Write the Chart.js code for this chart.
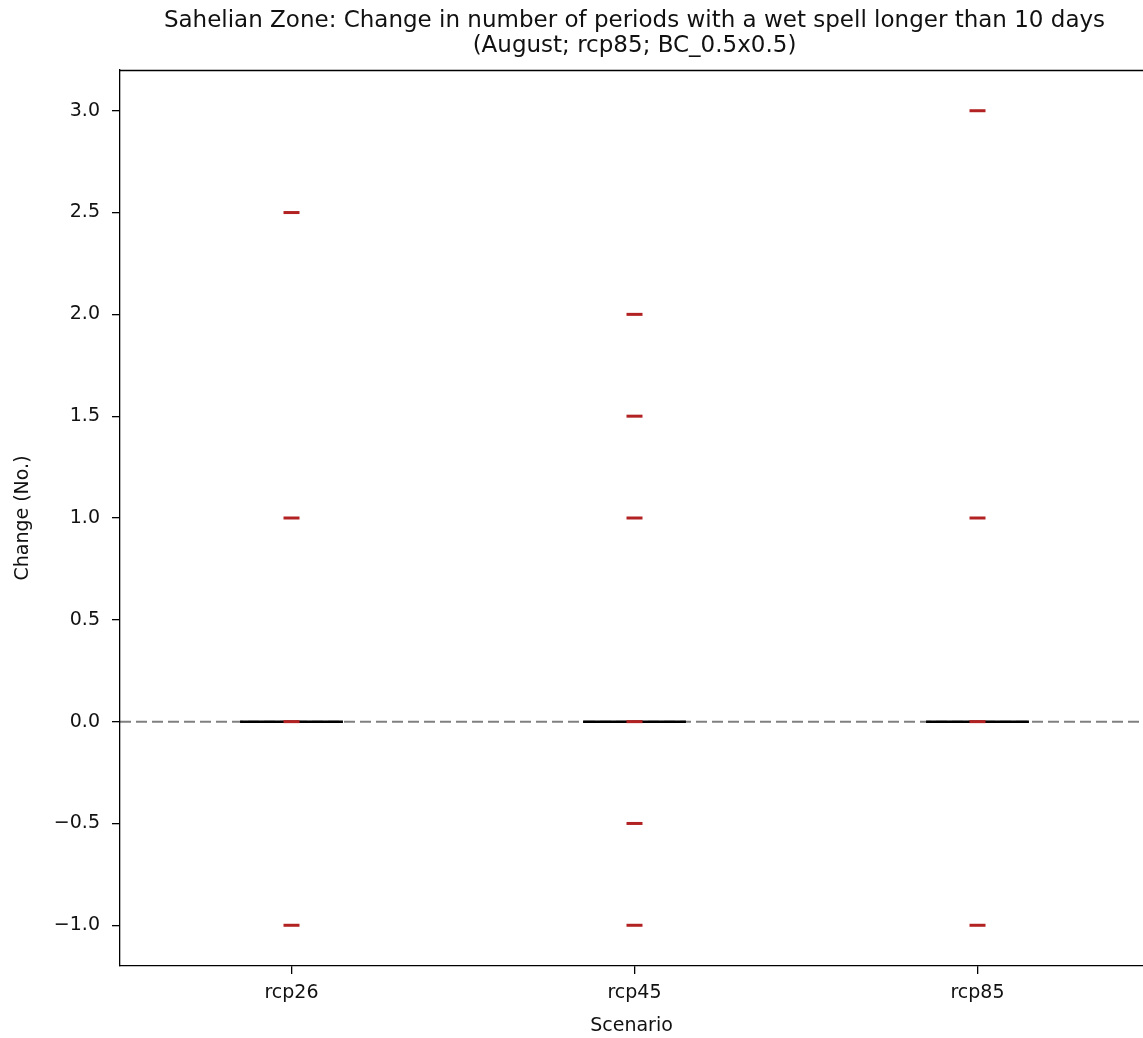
<!DOCTYPE html>
<html>
<head>
<meta charset="utf-8">
<script src="https://cdn.jsdelivr.net/npm/chart.js@4.4.0/dist/chart.umd.min.js"></script>
<style>
    html, body { margin: 0; padding: 0; background: #fff; overflow: hidden; }
    #wrap { width: 1143px; height: 1038px; }
</style>
</head>
<body>
<div id="wrap"><canvas id="chart"></canvas></div>
<script>
// --- Données ---
const scenarios = ['rcp26', 'rcp45', 'rcp85'];
const positions = [1, 2, 3];
// boxes collapsed: q1 = median = q3 = 0
const boxMedian = [0, 0, 0];
const outliersRcp26 = [2.5, 1.0, 0.0, -1.0];
const outliersRcp45 = [2.0, 1.5, 1.0, 0.0, -0.5, -1.0];
const outliersRcp85 = [3.0, 1.0, 0.0, -1.0];
const yTicks = [-1.0, -0.5, 0.0, 0.5, 1.0, 1.5, 2.0, 2.5, 3.0];

const titleLines = [
    'Sahelian Zone: Change in number of periods with a wet spell longer than 10 days',
    '(August; rcp85; BC_0.5x0.5)'
];

const FONT = "'DejaVu Sans', sans-serif";
const TEXT = '#111';
const boxHalf = 0.15;
const flierColor = '#b22222';

const outlierSets = [outliersRcp26, outliersRcp45, outliersRcp85];
const flierPoints = [];
outlierSets.forEach((vals, i) => {
    vals.forEach(v => flierPoints.push({ x: positions[i], y: v }));
});

const boxDatasets = positions.map((p, i) => ({
    type: 'line',
    data: [{ x: p - boxHalf, y: boxMedian[i] }, { x: p + boxHalf, y: boxMedian[i] }],
    borderColor: '#000',
    borderWidth: 2.5,
    pointRadius: 0,
    order: 1
}));

// titre + cadre du haut
const framePlugin = {
    id: 'frame',
    afterDraw(chart) {
        const { ctx, chartArea } = chart;
        ctx.save();
        ctx.strokeStyle = '#000';
        ctx.lineWidth = 1.3;
        ctx.beginPath();
        ctx.moveTo(chartArea.left, chartArea.top + 0.5);
        ctx.lineTo(chartArea.right + 20, chartArea.top + 0.5);
        ctx.stroke();
        ctx.fillStyle = TEXT;
        ctx.font = '23px ' + FONT;
        ctx.textAlign = 'center';
        ctx.textBaseline = 'middle';
        const cx = chartArea.left + (3 * 343) / 2;
        ctx.fillText(titleLines[0], cx, 21);
        ctx.fillText(titleLines[1], cx, 46);
        ctx.restore();
    }
};

new Chart(document.getElementById('chart'), {
    type: 'scatter',
    data: {
        datasets: [
            {
                type: 'scatter',
                data: flierPoints,
                pointStyle: 'line',
                pointRadius: 8,
                pointHoverRadius: 8,
                borderColor: flierColor,
                backgroundColor: flierColor,
                pointBorderWidth: 3,
                order: 0
            },
            ...boxDatasets,
            {
                type: 'line',
                data: [{ x: 0.5, y: 0 }, { x: 3.5, y: 0 }],
                borderColor: 'rgba(0,0,0,0.5)',
                borderWidth: 2,
                borderDash: [11, 5],
                pointRadius: 0,
                order: 2
            }
        ]
    },
    options: {
        responsive: true,
        maintainAspectRatio: false,
        animation: false,
        layout: { autoPadding: false, padding: { top: 70, right: 0, left: 0, bottom: 0 } },
        plugins: {
            legend: { display: false },
            tooltip: { enabled: false },
            title: { display: false }
        },
        scales: {
            x: {
                type: 'linear',
                min: 0.5,
                max: 0.5 + 1023 / 343,
                afterBuildTicks: scale => {
                    scale.ticks = positions.map(v => ({ value: v }));
                },
                afterFit: scale => {
                    scale.height = 72;
                    scale.paddingLeft = 0;
                    scale.paddingRight = 0;
                },
                ticks: {
                    callback: (value) => scenarios[positions.indexOf(value)] || '',
                    color: TEXT,
                    font: { family: FONT, size: 19 },
                    padding: 8,
                    maxRotation: 0
                },
                grid: { drawOnChartArea: false, drawTicks: true, tickLength: 8, color: '#000', lineWidth: 1.3 },
                border: { display: true, color: '#000', width: 1.3 },
                title: {
                    display: true,
                    text: 'Scenario',
                    color: TEXT,
                    font: { family: FONT, size: 19 },
                    padding: { top: 0, bottom: 1 }
                }
            },
            y: {
                type: 'linear',
                min: -1.2,
                max: 3.2,
                afterBuildTicks: scale => {
                    scale.ticks = yTicks.map(v => ({ value: v }));
                },
                afterFit: scale => { scale.width = 120; },
                ticks: {
                    callback: (value) => value.toFixed(1).replace('-', '\u2212'),
                    color: TEXT,
                    font: { family: FONT, size: 19 },
                    padding: 12
                },
                grid: { drawOnChartArea: false, drawTicks: true, tickLength: 8, color: '#000', lineWidth: 1.3 },
                border: { display: true, color: '#000', width: 1.3 },
                title: {
                    display: true,
                    text: 'Change (No.)',
                    color: TEXT,
                    font: { family: FONT, size: 19 },
                    padding: { top: 12, bottom: 0 }
                }
            }
        }
    },
    plugins: [framePlugin]
});
</script>
</body>
</html>
